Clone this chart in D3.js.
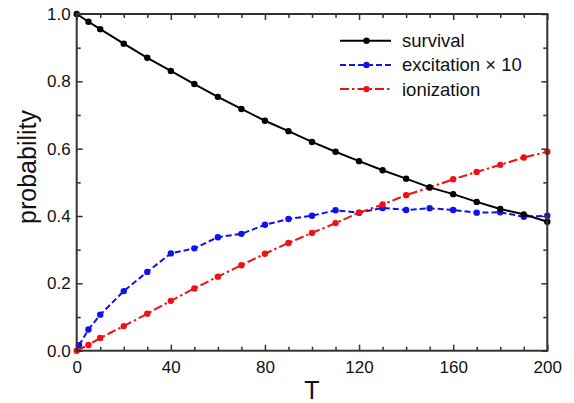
<!DOCTYPE html>
<html><head><meta charset="utf-8">
<script src="https://cdn.jsdelivr.net/npm/d3@7"></script>
<style>body{margin:0;background:#fff}svg{display:block}text{font-family:"Liberation Sans",Arial,sans-serif;fill:#111}</style>
</head><body><svg id="c" width="574" height="403"></svg>
<script>
const T = [0,5,10,20,30,40,50,60,70,80,90,100,110,120,130,140,150,160,170,180,190,200];
const Texc = [1,5,10,20,30,40,50,60,70,80,90,100,110,120,130,140,150,160,170,180,190,200];
const survival = [1.0,0.977,0.955,0.912,0.870,0.831,0.792,0.754,0.718,0.683,0.652,0.620,0.591,0.563,0.536,0.511,0.485,0.465,0.442,0.421,0.405,0.383];
const excitation = [0.016,0.063,0.107,0.177,0.234,0.289,0.304,0.337,0.347,0.374,0.391,0.401,0.417,0.41,0.424,0.418,0.423,0.418,0.41,0.411,0.398,0.401];
const ionization = [0,0.017,0.038,0.073,0.11,0.148,0.185,0.22,0.254,0.288,0.32,0.35,0.379,0.41,0.434,0.462,0.485,0.509,0.531,0.552,0.574,0.591];
const xTicks = [0,40,80,120,160,200];
const yTicks = [0.0,0.2,0.4,0.6,0.8,1.0];
const seriesNames = ["survival","excitation \u00d7 10","ionization"];

const svg = d3.select("#c");
const L=76.7,R=547.3,Tp=14,B=350.7;
const x = d3.scaleLinear().domain([0,200]).range([L,R]);
const y = d3.scaleLinear().domain([0,1]).range([B,Tp]);
const axisCol="#333";

const series = [
  {name:seriesNames[0], xs:T, ys:survival, color:"#000", dash:null},
  {name:seriesNames[1], xs:Texc, ys:excitation, color:"#1010f0", dash:"6,3"},
  {name:seriesNames[2], xs:T, ys:ionization, color:"#f01010", dash:"9,3,2.5,3"}
];
const line = d3.line().x(d=>x(d[0])).y(d=>y(d[1]));
// draw order: blue, red, black
[1,2,0].forEach(i=>{
  const s=series[i];
  const pts=s.xs.map((t,j)=>[t,s.ys[j]]);
  svg.append("path").attr("d",line(pts)).attr("fill","none").attr("stroke",s.color)
    .attr("stroke-width",2).attr("stroke-dasharray",s.dash);
  svg.append("g").selectAll("circle").data(pts).join("circle")
    .attr("cx",d=>x(d[0])).attr("cy",d=>y(d[1])).attr("r",3.2).attr("fill",s.color);
});

// frame
svg.append("rect").attr("x",L).attr("y",Tp).attr("width",R-L).attr("height",B-Tp)
  .attr("fill","none").attr("stroke",axisCol).attr("stroke-width",2);

// axes (ticks inside)
const gB = svg.append("g").attr("transform",`translate(0,${B})`)
  .call(d3.axisBottom(x).tickValues(xTicks).tickSize(-6).tickPadding(10).tickFormat(d3.format("d")));
const gBm = svg.append("g").attr("transform",`translate(0,${B})`)
  .call(d3.axisBottom(x).tickValues(d3.range(0,201,10).filter(v=>v%40)).tickSize(-4).tickFormat(""));
const gT = svg.append("g").attr("transform",`translate(0,${Tp})`)
  .call(d3.axisTop(x).tickValues(xTicks).tickSize(-6).tickFormat(""));
const gTm = svg.append("g").attr("transform",`translate(0,${Tp})`)
  .call(d3.axisTop(x).tickValues(d3.range(0,201,10).filter(v=>v%40)).tickSize(-4).tickFormat(""));
const gL = svg.append("g").attr("transform",`translate(${L},0)`)
  .call(d3.axisLeft(y).tickValues(yTicks).tickSize(-6).tickPadding(5).tickFormat(d3.format(".1f")));
const gLm = svg.append("g").attr("transform",`translate(${L},0)`)
  .call(d3.axisLeft(y).tickValues([0.1,0.3,0.5,0.7,0.9]).tickSize(-4).tickFormat(""));
const gR = svg.append("g").attr("transform",`translate(${R},0)`)
  .call(d3.axisRight(y).tickValues(yTicks).tickSize(-6).tickFormat(""));
const gRm = svg.append("g").attr("transform",`translate(${R},0)`)
  .call(d3.axisRight(y).tickValues([0.1,0.3,0.5,0.7,0.9]).tickSize(-4).tickFormat(""));
[gB,gBm,gT,gTm,gL,gLm,gR,gRm].forEach(g=>{
  g.select(".domain").remove();
  g.selectAll(".tick line").attr("stroke",axisCol).attr("stroke-width",1.5);
  g.selectAll("text").style("font-size","17px").attr("fill","#111");
});
gL.selectAll("text").attr("dx","-1px");

// axis labels
svg.append("text").attr("x",(L+R)/2).attr("y",399).attr("text-anchor","middle")
  .style("font-size","25px").text("T");
svg.append("text").attr("transform","translate(36,167) rotate(-90)").attr("text-anchor","middle")
  .style("font-size","25px").text("probability");

// legend
const lg = svg.append("g");
series.forEach((s,i)=>{
  const yy = 40.7 + i*24.2;
  lg.append("line").attr("x1",340).attr("x2",391).attr("y1",yy).attr("y2",yy)
    .attr("stroke",s.color).attr("stroke-width",2).attr("stroke-dasharray",s.dash);
  lg.append("circle").attr("cx",366.5).attr("cy",yy).attr("r",3.2).attr("fill",s.color);
  lg.append("text").attr("x",402).attr("y",yy+6.5).style("font-size","18.5px").text(s.name);
});
</script></body></html>
